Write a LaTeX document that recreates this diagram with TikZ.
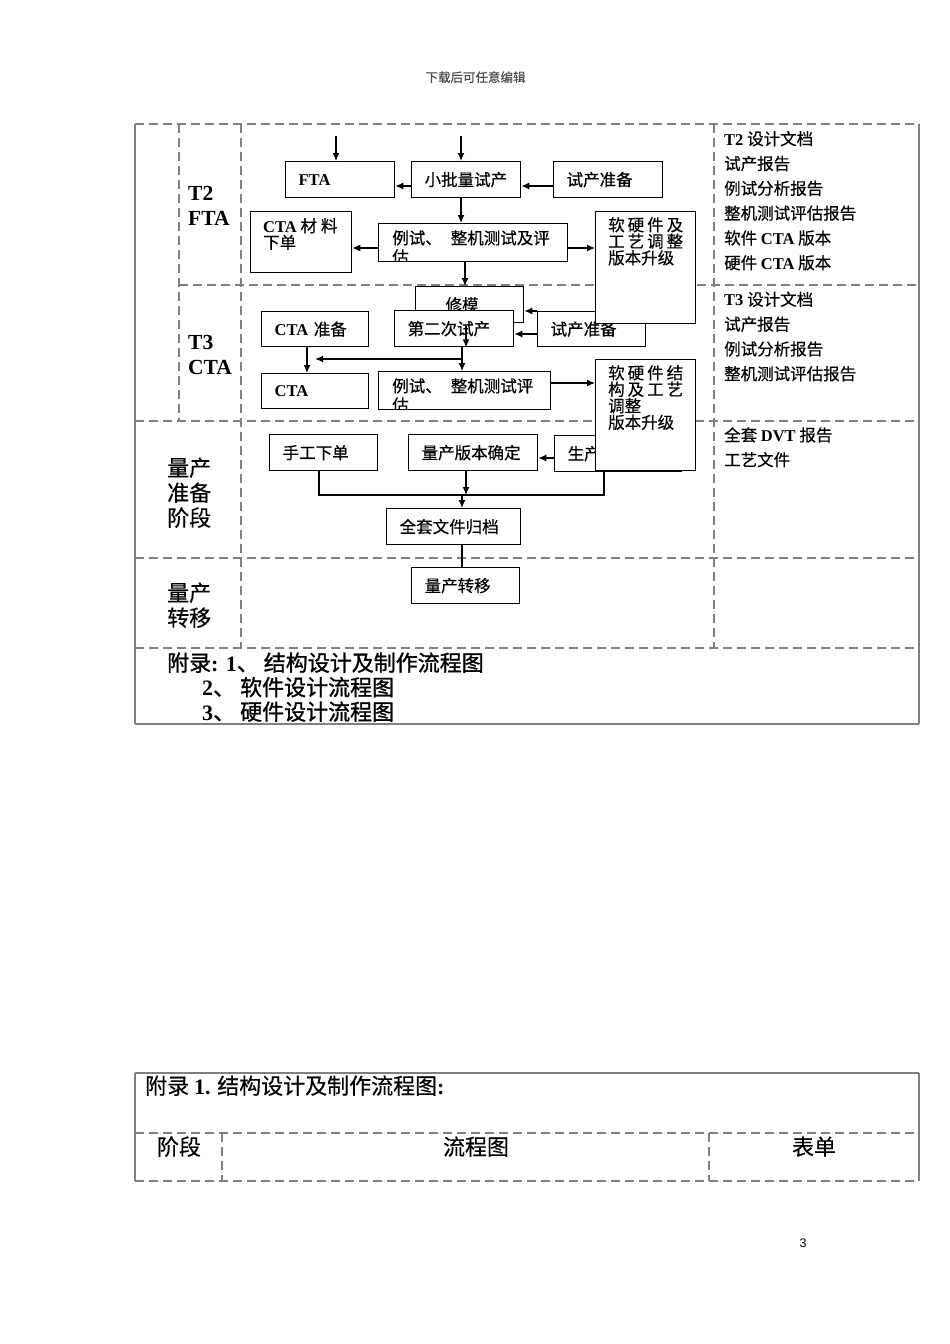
\documentclass[tikz,border=0pt]{standalone}
\usepackage{fontspec}
\setmainfont{Liberation Serif}
\newfontfamily\cjk[FakeBold=0.4]{Noto Sans CJK SC}
\newfontfamily\cjkheavy[FakeBold=1.2]{Noto Sans CJK SC}
\newfontfamily\arialfont{Liberation Sans}
\usetikzlibrary{arrows.meta}
\definecolor{ruleg}{gray}{0.5}
\newcommand\en[1]{{\normalfont\bfseries #1}}
\newcommand\boxfont{\cjk\fontsize{16.5}{16.5}\selectfont}
\newcommand\bigfont{\cjk\fontsize{22}{25}\selectfont}
\tikzset{
  tabline/.style={draw=ruleg, line width=1.4pt, dash pattern=on 9pt off 5pt},
  tabsolid/.style={draw=ruleg, line width=1.2pt},
  box/.style={draw, line width=1.3pt, fill=white, anchor=north west,
    inner xsep=13pt, inner ysep=0pt, align=left, minimum height=36pt},
  boxtext/.style={anchor=north west, inner sep=0pt, align=left,
    minimum width=0pt, minimum height=0pt},
  link/.style={line width=1.3pt, -{Latex[length=8pt,width=7pt]}},
  wire/.style={line width=1.3pt},
  stage/.style={anchor=base west, inner sep=0pt, align=left},
  side/.style={anchor=base west, inner sep=0pt, align=left,
    font=\cjk\fontsize{16.5}{24.8}\selectfont},
}
\begin{document}
\begin{tikzpicture}[x=1pt, y=-1pt, font=\boxfont]
  \useasboundingbox (0,0) rectangle (950,1344);
  \node[font=\cjk\fontsize{12.5}{14}\selectfont, text=black!70, anchor=base] (head) at (475.5,82) {下载后可任意编辑};

  % main table
  \draw[tabline] (135,124) -- (919,124);
  \draw[tabline] (179,285) -- (919,285);
  \draw[tabline] (135,421) -- (919,421);
  \draw[tabline] (135,558) -- (919,558);
  \draw[tabline] (135,648) -- (919,648);
  \draw[tabsolid] (135,724) -- (919,724);
  \draw[tabsolid] (135,124) -- (135,724);
  \draw[tabsolid] (919,124) -- (919,724);
  \draw[tabline] (179,124) -- (179,421);
  \draw[tabline] (241,124) -- (241,648);
  \draw[tabline] (714,124) -- (714,648);

  % base of a block = its last line
  \node[stage, font=\bfseries\fontsize{21.5}{25}\selectfont] (t2lbl) at (188,225) {T2\\FTA};
  \node[stage, font=\bfseries\fontsize{21.5}{25}\selectfont] (t3lbl) at (188,374) {T3\\CTA};
  \node[stage, font=\bigfont] (preplbl) at (167,526) {量产\\准备\\阶段};
  \node[stage, font=\bigfont] (movelbl) at (167,626) {量产\\转移};

  \node[side] (t2doc) at (724,269) {\en{T2} 设计文档\\试产报告\\例试分析报告\\整机测试评估报告\\软件 \en{CTA} 版本\\硬件 \en{CTA} 版本};
  \node[side] (t3doc) at (724,380) {\en{T3} 设计文档\\试产报告\\例试分析报告\\整机测试评估报告};
  \node[side] (mpdoc) at (724,466) {全套 \en{DVT} 报告\\工艺文件};

  % T2
  \node[box, text width=83pt] (fta) at (285,161) {\en{FTA}};
  \node[box, text width=83pt] (batch) at (411,161) {小批量试产};
  \node[box, text width=83pt] (prep2) at (553,161) {试产准备};
  \node[box, minimum width=101pt, minimum height=61pt] (ctaorder) at (250,211) {};
  \node[boxtext] (ctaordertxt) at ([shift={(13,7)}]ctaorder.north west) {\en{CTA} 材\hspace{4pt}料\\下单};
  \node[box, minimum width=189pt, minimum height=38pt, path picture={
    \node[boxtext] (test2txt) at ([shift={(13,6)}]path picture bounding box.north west) {例试、\hspace{9pt}整机测试及评\\[2.5pt]估};
  }] (test2) at (378,223) {};

  % T3
  \node[box, text width=48pt, inner xsep=30pt] (mold) at (415,286) {修模};
  \node[box, text width=93pt] (retry) at (394,310) {第二次试产};
  \node[box, text width=82pt, minimum height=35pt] (prep3) at (537,311) {试产准备};
  \node[box, minimum width=100pt, minimum height=112pt] (fix2) at (595,211) {};
  \node[boxtext] (fix2txt) at ([shift={(13,6)}]fix2.north west) {软\hspace{3pt}硬\hspace{3pt}件\hspace{3pt}及\\工\hspace{3pt}艺\hspace{3pt}调\hspace{3pt}整\\版本升级};
  \node[box, text width=81pt, minimum height=35pt] (ctaprep) at (261,311) {\en{CTA} 准备};
  \node[box, text width=81pt, minimum height=35pt] (cta) at (261,373) {\en{CTA}};
  \node[box, minimum width=172pt, minimum height=38pt, path picture={
    \node[boxtext] (test3txt) at ([shift={(13,6)}]path picture bounding box.north west) {例试、\hspace{9pt}整机测试评\\[2.5pt]估};
  }] (test3) at (378,371) {};

  % mass production
  \node[box, text width=101pt] (prod) at (554,435) {生产};
  \node[box, minimum width=100pt, minimum height=111pt] (fix3) at (595,359) {};
  \node[boxtext] (fix3txt) at ([shift={(13,6)}]fix3.north west) {软\hspace{3pt}硬\hspace{3pt}件\hspace{3pt}结\\构\hspace{3pt}及\hspace{3pt}工\hspace{3pt}艺\\调整\\版本升级};
  \node[box, text width=82pt] (manual) at (269,434) {手工下单};
  \node[box, text width=103pt] (final) at (408,434) {量产版本确定};
  \node[box, text width=108pt] (archive) at (386,508) {全套文件归档};
  \node[box, text width=82pt] (transfer) at (411,567) {量产转移};

  % connectors
  \coordinate (ftain) at (336,136);
  \coordinate (batchin) at (461,136);
  \coordinate (moldout) at (466,326);
  \coordinate (split) at (462,359);
  \coordinate (join) at (462,495);
  \draw[link] (ftain) -- (ftain |- fta.north);
  \draw[link] (batchin) -- (batchin |- batch.north);
  \draw[link] (batch.west |- 0,186) -- (fta.east |- 0,186);
  \draw[link] (prep2.west |- 0,186) -- (batch.east |- 0,186);
  \draw[link] (batch.south -| 461,0) -- (test2.north -| 461,0);
  \draw[link] (test2.west |- 0,248) -- (ctaorder.east |- 0,248);
  \draw[link] (test2.east |- 0,248) -- (fix2.west |- 0,248);
  \draw[link] (test2.south -| 465,0) -- (mold.north -| 465,0);
  \draw[link] (prep3.west |- 0,311) -- (mold.east |- 0,311);
  \draw[link] (prep3.west |- 0,334) -- (retry.east |- 0,334);
  \draw[link] (moldout) -- (retry.south -| moldout);
  \draw[link] (retry.south -| split) -- (test3.north -| split);
  \draw[link] (split) -- (split -| ctaprep.south);
  \draw[link] (ctaprep.south -| 307,0) -- (cta.north -| 307,0);
  \draw[link] (test3.east |- 0,383) -- (fix3.west |- 0,383);
  \draw[link] (prod.west |- 0,458) -- (final.east |- 0,458);
  \draw[wire] (manual.south -| 319,0) |- (join) -| (prod.south -| 604,0);
  \draw[link] (final.south -| 466,0) -- (join -| 466,0);
  \draw[link] (join) -- (archive.north -| join);
  \draw[wire] (archive.south -| join) -- (transfer.north -| join);

  \node[stage, font=\cjkheavy\fontsize{22}{24.5}\selectfont] (annex) at (167,720) {附录\en{: 1}、 结构设计及制作流程图\\\hspace*{35pt}\en{2}、 软件设计流程图\\\hspace*{35pt}\en{3}、 硬件设计流程图};

  % appendix table
  \draw[tabsolid] (135,1073) -- (919,1073);
  \draw[tabsolid] (135,1073) -- (135,1181);
  \draw[tabsolid] (919,1073) -- (919,1181);
  \draw[tabline] (135,1133) -- (919,1133);
  \draw[tabline] (135,1181) -- (919,1181);
  \draw[tabline] (222,1133) -- (222,1181);
  \draw[tabline] (709,1133) -- (709,1181);
  \node[stage, font=\bigfont] (annextitle) at (145,1094) {附录 \en{1.} 结构设计及制作流程图\en{:}};
  \node[anchor=base, font=\bigfont] (colstage) at (179,1155) {阶段};
  \node[anchor=base, font=\bigfont] (colflow) at (476,1155) {流程图};
  \node[anchor=base, font=\bigfont] (colform) at (814,1155) {表单};

  \node[font=\arialfont\fontsize{12.5}{14}\selectfont, anchor=base] (pageno) at (803,1247) {3};
\end{tikzpicture}
\end{document}
